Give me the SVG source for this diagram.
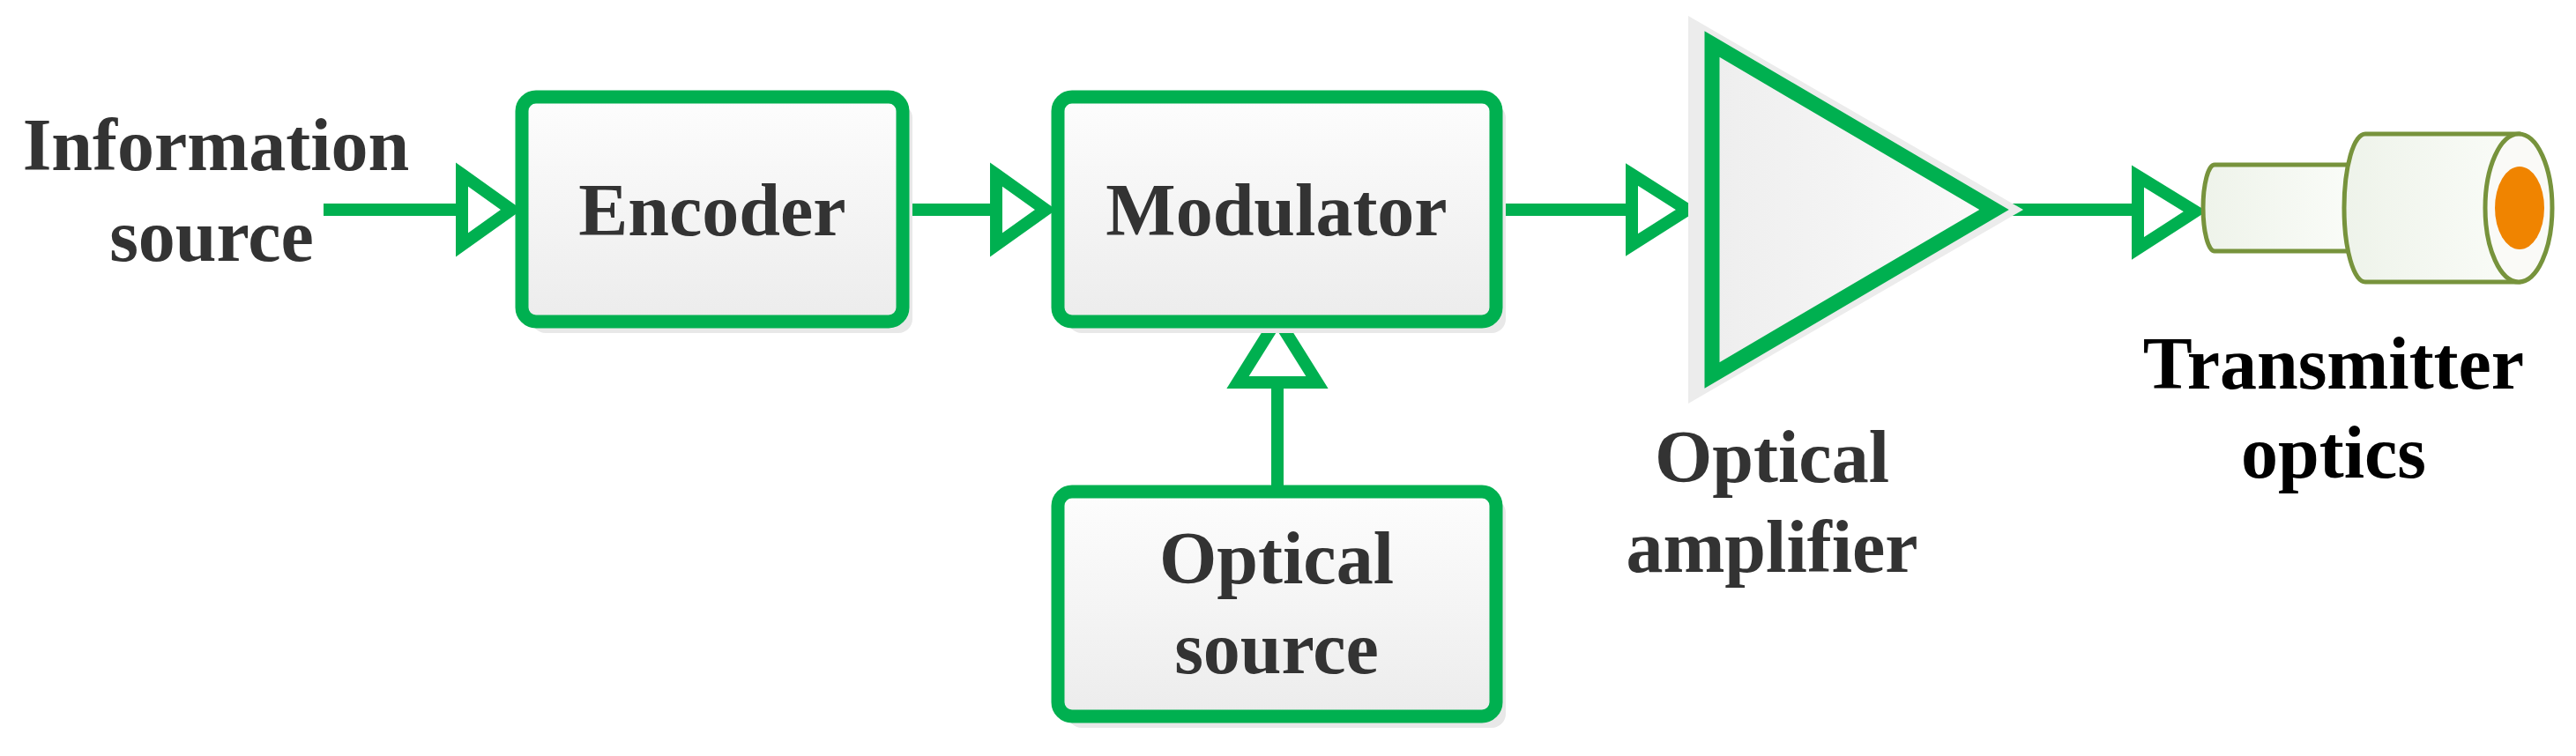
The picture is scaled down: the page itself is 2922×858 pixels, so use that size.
<svg xmlns="http://www.w3.org/2000/svg" width="2922" height="858" viewBox="0 0 2922 858">
<style>
.box{fill:url(#bg);stroke:#00B050;stroke-width:15}
.sh{fill:#e8e8e8}
.ln{stroke:#00B050;stroke-width:14;fill:none}
.ah{fill:#fff;stroke:#00B050;stroke-width:14}
.t{font-family:"Liberation Serif",serif;font-weight:bold;font-size:84px;fill:#333;text-anchor:middle}
.cyl{stroke:#77933C;stroke-width:5;fill:url(#cg)}
</style>
<defs>
<linearGradient id="bg" x1="0" y1="0" x2="0" y2="1"><stop offset="0" stop-color="#fdfdfd"/><stop offset="1" stop-color="#ececec"/></linearGradient>
<linearGradient id="tg" x1="0" y1="0" x2="1" y2="0"><stop offset="0" stop-color="#eeeeee"/><stop offset="1" stop-color="#fafafa"/></linearGradient>
<linearGradient id="cg" x1="0" y1="0" x2="1" y2="0"><stop offset="0" stop-color="#eef3ea"/><stop offset="1" stop-color="#fafcf8"/></linearGradient>
</defs>
<rect x="0" y="0" width="2922" height="858" fill="#fff"/>
<g id="connectors">
<line class="ln" x1="367" y1="238" x2="525" y2="238"/>
<polygon class="ah" points="524,198 580,238 524,278"/>
<line class="ln" x1="1024" y1="238" x2="1132" y2="238"/>
<polygon class="ah" points="1130,198 1186,238 1130,278"/>
<line class="ln" x1="1449" y1="556" x2="1449" y2="430"/>
<polygon class="ah" points="1404,434 1449,362 1494,434"/>
<line class="ln" x1="1697" y1="238" x2="1853" y2="238"/>
<polygon class="ah" points="1851,198 1914,238 1851,278"/>
<line class="ln" x1="2273" y1="238" x2="2427" y2="238"/>
<polygon class="ah" points="2425,200 2490,240 2425,282"/>
</g>
<g id="info-source">
<text class="t" x="245" y="193">Information</text>
<text class="t" x="240" y="296">source</text>
</g>
<g id="encoder">
<rect class="sh" x="603" y="118" width="432" height="260" rx="16"/>
<rect class="box" x="592" y="110" width="432" height="255" rx="16"/>
<text class="t" x="808" y="267">Encoder</text>
</g>
<g id="modulator">
<rect class="sh" x="1211" y="118" width="497" height="260" rx="16"/>
<rect class="box" x="1200" y="110" width="497" height="255" rx="16"/>
<text class="t" x="1448" y="267">Modulator</text>
</g>
<g id="optical-source">
<rect class="sh" x="1211" y="566" width="497" height="260" rx="16"/>
<rect class="box" x="1200" y="558" width="497" height="255" rx="16"/>
<text class="t" x="1448" y="662">Optical</text>
<text class="t" x="1448" y="764">source</text>
</g>
<g id="optical-amplifier">
<polygon points="1915,18 2295,238 1915,458" fill="#ececec"/>
<polygon points="1942,50 2262,238 1942,426" fill="url(#tg)" stroke="#00B050" stroke-width="17" stroke-linejoin="miter"/>
<text class="t" x="2010" y="547">Optical</text>
<text class="t" x="2010" y="649">amplifier</text>
</g>
<g id="transmitter-optics">
<path class="cyl" d="M2512,187 H2670 V285 H2512 A13,49 0 0 1 2512,187 Z"/>
<path class="cyl" d="M2683,152 H2857 V320 H2683 A24,84 0 0 1 2683,152 Z"/>
<ellipse cx="2857" cy="236" rx="38" ry="84" fill="#fafaf7" stroke="#77933C" stroke-width="5"/>
<ellipse cx="2858" cy="236" rx="28" ry="47" fill="#F08400"/>
<text class="t" x="2647" y="441" style="fill:#000">Transmitter</text>
<text class="t" x="2647" y="542" style="fill:#000">optics</text>
</g>
</svg>
